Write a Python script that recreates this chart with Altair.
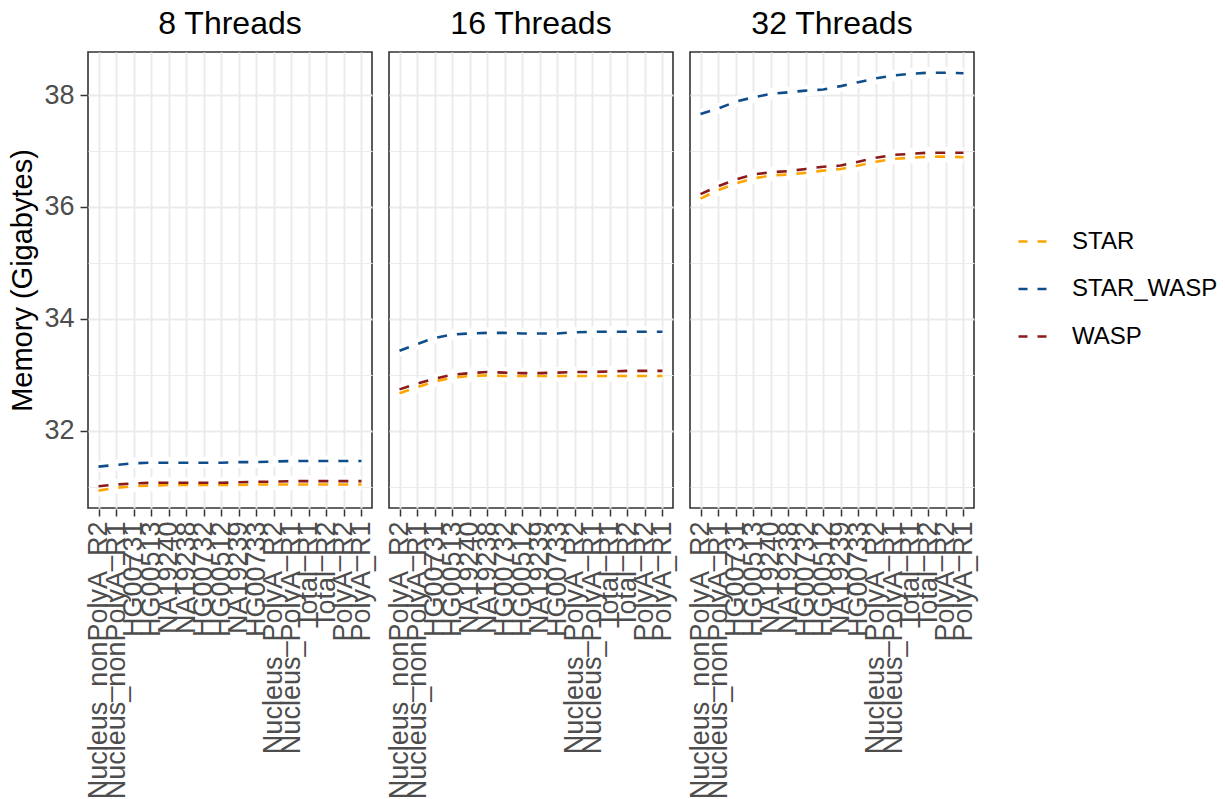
import altair as alt
import pandas as pd

# Samples along the x axis, in plotting order
samples = [
    "Nucleus_nonPolyA_R2", "Nucleus_nonPolyA_R1", "HG00731", "HG00513",
    "NA19240", "NA19238", "HG00732", "HG00512", "NA19239", "HG00733",
    "Nucleus_PolyA_R2", "Nucleus_PolyA_R1", "Total_R1", "Total_R2",
    "PolyA_R2", "PolyA_R1",
]
thread_panels = ["8 Threads", "16 Threads", "32 Threads"]
methods = ["STAR", "STAR_WASP", "WASP"]
method_colors = ["#FFA500", "#104E8B", "#8B1A1A"]

# Smoothed peak memory (GB) per sample
star_8 = [30.93, 30.98, 31.01, 31.02, 31.03, 31.03, 31.03, 31.03,
          31.03, 31.04, 31.04, 31.04, 31.04, 31.04, 31.04, 31.04]
star_wasp_8 = [31.36, 31.39, 31.42, 31.43, 31.43, 31.43, 31.43, 31.43,
               31.44, 31.44, 31.45, 31.46, 31.46, 31.46, 31.46, 31.46]
wasp_8 = [31.01, 31.04, 31.06, 31.07, 31.07, 31.07, 31.07, 31.07,
          31.08, 31.09, 31.09, 31.10, 31.10, 31.10, 31.10, 31.10]

star_16 = [32.67, 32.78, 32.88, 32.95, 32.98, 32.99, 32.98, 32.98,
           32.98, 32.98, 32.98, 32.98, 32.98, 32.98, 32.98, 32.98]
star_wasp_16 = [33.43, 33.55, 33.66, 33.72, 33.74, 33.75, 33.75, 33.74,
                33.74, 33.74, 33.76, 33.77, 33.77, 33.77, 33.77, 33.77]
wasp_16 = [32.74, 32.84, 32.93, 33.00, 33.03, 33.05, 33.04, 33.03,
           33.03, 33.04, 33.05, 33.05, 33.06, 33.07, 33.07, 33.07]

star_32 = [36.15, 36.30, 36.42, 36.51, 36.56, 36.58, 36.61, 36.65,
           36.68, 36.74, 36.81, 36.86, 36.88, 36.90, 36.90, 36.89]
star_wasp_32 = [37.66, 37.76, 37.88, 37.96, 38.02, 38.05, 38.08, 38.10,
                38.16, 38.23, 38.30, 38.35, 38.38, 38.40, 38.40, 38.39]
wasp_32 = [36.23, 36.37, 36.49, 36.58, 36.62, 36.64, 36.68, 36.72,
           36.74, 36.81, 36.88, 36.93, 36.95, 36.97, 36.97, 36.97]

series = {
    ("8 Threads", "STAR"): star_8,
    ("8 Threads", "STAR_WASP"): star_wasp_8,
    ("8 Threads", "WASP"): wasp_8,
    ("16 Threads", "STAR"): star_16,
    ("16 Threads", "STAR_WASP"): star_wasp_16,
    ("16 Threads", "WASP"): wasp_16,
    ("32 Threads", "STAR"): star_32,
    ("32 Threads", "STAR_WASP"): star_wasp_32,
    ("32 Threads", "WASP"): wasp_32,
}

rows = []
for (panel, method), values in series.items():
    for sample, value in zip(samples, values):
        rows.append({"threads": panel, "method": method,
                     "sample": sample, "memory": value})
df = pd.DataFrame(rows)

FONT = "Liberation Sans"
y_ticks = [31, 32, 33, 34, 35, 36, 37, 38]
even = "datum.value % 2 === 0"

x_enc = alt.X(
    "sample:N",
    sort=samples,
    scale=alt.Scale(type="point", padding=0.6),
    axis=alt.Axis(
        title=None, labelAngle=-90, labelOverlap=False, labelLimit=400,
        labelFontSize=27, labelColor="#4D4D4D", labelPadding=5,
        tickColor="#333333", tickSize=7, tickWidth=1.5,
        grid=True, gridColor="#EBEBEB", gridWidth=2, domain=False,
    ),
)
y_scale = alt.Scale(domain=[30.62, 38.77], nice=False, zero=False)
y_axis = alt.Axis(
    title="Memory (Gigabytes)", values=y_ticks,
    labelExpr=f"{even} ? datum.label : ''",
    labelFontSize=27, labelColor="#4D4D4D", labelPadding=6,
    titleFontSize=29, titleFontWeight="normal", titleColor="black",
    titlePadding=6,
    tickColor="#333333", tickSize=7, tickWidth=1.5,
    tickOpacity={"condition": {"test": even, "value": 1}, "value": 0},
    grid=True, gridColor="#EBEBEB",
    gridWidth={"condition": {"test": even, "value": 2}, "value": 1},
    domain=False,
)

# White confidence band drawn underneath the dashed trend lines
band = alt.Chart().transform_calculate(
    lo="datum.memory - 0.1", hi="datum.memory + 0.1"
).mark_area(color="white", opacity=1).encode(
    x=x_enc,
    y=alt.Y("lo:Q", scale=y_scale, axis=y_axis),
    y2="hi:Q",
    detail="method:N",
)

lines = alt.Chart().mark_line(strokeWidth=2.6, strokeDash=[10, 10]).encode(
    x=x_enc,
    y=alt.Y("memory:Q", scale=y_scale, axis=y_axis),
    color=alt.Color(
        "method:N",
        scale=alt.Scale(domain=methods, range=method_colors),
        legend=alt.Legend(
            title=None, symbolType="stroke", symbolSize=784,
            symbolStrokeWidth=2.6, symbolDash=[9, 10],
            labelFontSize=24, labelColor="black", labelOffset=24,
            rowPadding=19.5, orient="none", legendX=929, legendY=174,
        ),
    ),
)

chart = alt.layer(band, lines, data=df).properties(
    width=284, height=456
).facet(
    column=alt.Column(
        "threads:N", sort=thread_panels,
        header=alt.Header(title=None, labelFontSize=32, labelColor="black",
                          labelFont=FONT, labelPadding=10),
    ),
    spacing=15,
).configure(
    font=FONT,
).configure_view(
    stroke="#333333", strokeWidth=1.6,
).configure_axis(
    labelFont=FONT, titleFont=FONT,
).configure_legend(
    labelFont=FONT,
).properties(
    padding={"left": 8, "top": 8, "right": 0, "bottom": 0},
)

chart.save("out.html", embed_options={"renderer": "svg", "actions": False})
